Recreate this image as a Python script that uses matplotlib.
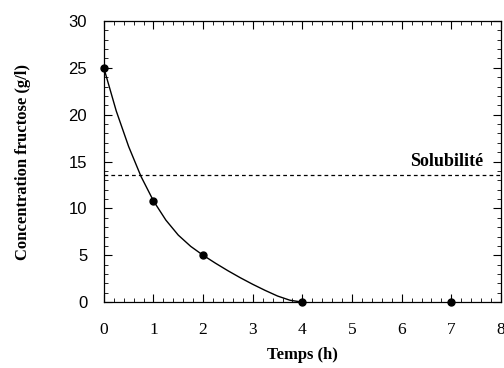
import numpy as np
import matplotlib.pyplot as plt
from matplotlib.ticker import MultipleLocator

# measured points
t_pts = [0, 1, 2, 4, 7]
c_pts = [25, 10.8, 5, 0, 0]
# fitted curve
t_curve = [0, 0.25, 0.5, 0.75, 1.0, 1.25, 1.5, 1.75, 2.0,
           2.25, 2.5, 2.75, 3.0, 3.25, 3.5, 3.75, 4.0]
c_curve = [25, 20.4, 16.6, 13.4, 10.8, 8.75, 7.15, 5.95, 5.0,
           4.15, 3.35, 2.6, 1.9, 1.25, 0.65, 0.2, 0]
solubilite = 13.6

plt.rcParams['font.family'] = ['Liberation Serif', 'DejaVu Serif']
fig = plt.figure(figsize=(5.04, 3.68), dpi=100)
ax = fig.add_axes([0.206, 0.179, 0.788, 0.764])

ax.plot(t_curve, c_curve, color='black', lw=1)
ax.plot(t_pts, c_pts, 'o', color='black', ms=5, clip_on=False, zorder=5)
ax.axhline(solubilite, color='black', lw=0.9, ls=(0, (3, 2.5)))
ax.text(7.64, 14.5, 'Solubilité', ha='right', va='baseline', fontsize=13, fontweight='bold')

ax.set_xlim(0, 8)
ax.set_ylim(0, 30)
ax.xaxis.set_major_locator(MultipleLocator(1))
ax.xaxis.set_minor_locator(MultipleLocator(0.2))
ax.yaxis.set_major_locator(MultipleLocator(5))
ax.yaxis.set_minor_locator(MultipleLocator(1))
ax.tick_params(which='both', direction='in', top=True, right=True, color='black')
ax.tick_params(which='major', length=6, width=0.8)
ax.tick_params(which='minor', length=3, width=0.6)
ax.tick_params(axis='x', labelsize=12.5, pad=14)
ax.tick_params(axis='y', labelsize=12, pad=12)
for lab in ax.get_yticklabels():
    lab.set_family(['Liberation Sans', 'DejaVu Sans'])
for s in ax.spines.values():
    s.set_linewidth(0.9)

ax.set_xlabel('Temps (h)', fontsize=12, fontweight='bold', labelpad=7)
ax.set_ylabel('Concentration fructose (g/l)', fontsize=12, fontweight='bold', labelpad=27)

fig.savefig('out.png', dpi=100)
